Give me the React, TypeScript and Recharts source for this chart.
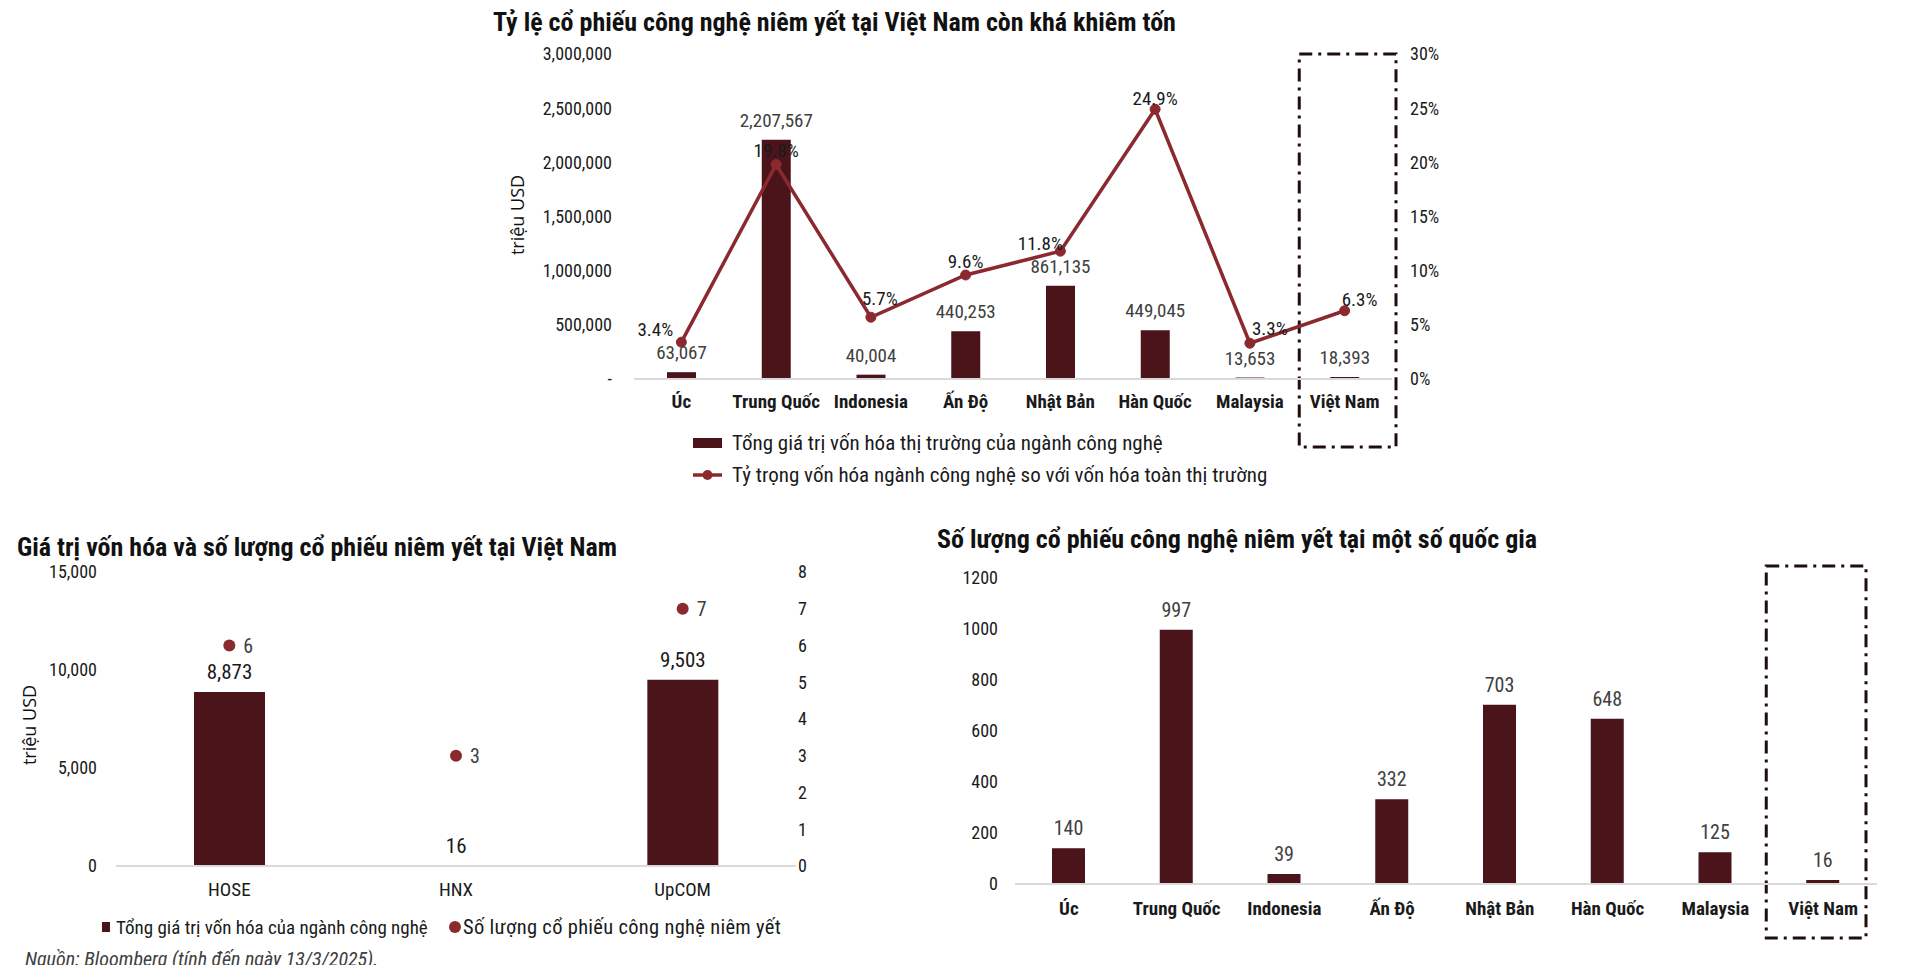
import React from "react";
import {
    ComposedChart,
    BarChart,
    Bar,
    Line,
    Scatter,
    XAxis,
    YAxis,
    LabelList,
    ReferenceArea,
} from "recharts";

const FONT = '"Liberation Sans Narrow", "Arial Narrow", "Roboto Condensed", "Liberation Sans", sans-serif';
const BAR = "#4a141a";
const LINE = "#8b2a2e";
const INK = "#1a1a1a";
const GRAY = "#404040";
const AXIS = "#d9d9d9";
const BOX = "#1f0e0e";

// --- chart 1: tech market cap vs share of total market cap
const countries = ["Úc", "Trung Quốc", "Indonesia", "Ấn Độ", "Nhật Bản", "Hàn Quốc", "Malaysia", "Việt Nam"];
const techCap = [63067, 2207567, 40004, 440253, 861135, 449045, 13653, 18393];
const techShare = [3.4, 19.8, 5.7, 9.6, 11.8, 24.9, 3.3, 6.3];
const capTicks = [0, 500000, 1000000, 1500000, 2000000, 2500000, 3000000];
const shareTicks = [0, 5, 10, 15, 20, 25, 30];
// nudges (px) for the % labels so they sit like in the source
const shareNudge = [[-26, -13], [0, -14], [9, -19], [0, -14], [-20, -8], [0, -11], [20, -15], [15, -11]];

// --- chart 2: Vietnam by exchange
const exchanges = ["HOSE", "HNX", "UpCOM"];
const vnCap = [8873, 16, 9503];
const vnCount = [6, 3, 7];
const vnCapTicks = [0, 5000, 10000, 15000];
const vnCountTicks = [0, 1, 2, 3, 4, 5, 6, 7, 8];

// --- chart 3: number of listed tech stocks
const listedCount = [140, 997, 39, 332, 703, 648, 125, 16];
const listedTicks = [0, 200, 400, 600, 800, 1000, 1200];

const topData = countries.map((c, i) => ({ country: c, cap: techCap[i], share: techShare[i] }));
const vnData = exchanges.map((e, i) => ({ exchange: e, cap: vnCap[i], count: vnCount[i] }));
const listedData = countries.map((c, i) => ({ country: c, count: listedCount[i] }));

const fmt = (v: number) => v.toLocaleString("en-US");

const ShareLabel = (props: any) => {
    const vb = props.viewBox || {};
    const x = vb.x ?? props.x;
    const y = vb.y ?? props.y;
    const [dx, dy] = shareNudge[props.index] ?? [0, -14];
    return (
        <text x={x + dx} y={y + dy} textAnchor="middle" dominantBaseline="central"
            fontSize={19} fill={INK} fontFamily={FONT}>
            {Number(props.value).toFixed(1)}%
        </text>
    );
};

const CountLabel = (props: any) => {
    const vb = props.viewBox || {};
    const cx = (vb.x ?? props.x) + (vb.width || 0) / 2;
    const cy = (vb.y ?? props.y) + (vb.height || 0) / 2;
    return (
        <text x={cx + 14} y={cy} dominantBaseline="central" fontSize={20} fill={GRAY} fontFamily={FONT}>
            {props.value}
        </text>
    );
};

// dash-dot frame round the Việt Nam column
const frame = (dx: number, dw: number, top: number, bottom: number) => (p: any) => (
    <rect x={p.x + dx} y={p.y - top} width={p.width + dw} height={p.height + top + bottom}
        fill="none" stroke={BOX} strokeWidth={3} strokeDasharray="13 6 3 6" />
);

const tick = (size: number, bold = false) => ({ fontSize: size, fill: INK, fontFamily: FONT, fontWeight: bold ? 700 : 400 });

const titleStyle: React.CSSProperties = {
    position: "absolute", fontWeight: 700, fontSize: 26, lineHeight: "30px", color: "#111", whiteSpace: "nowrap",
};

const unitStyle = (left: number, top: number): React.CSSProperties => ({
    position: "absolute", left, top, transform: "translate(-50%, -50%) rotate(-90deg)",
    fontFamily: '"Open Sans", sans-serif', fontSize: 18, color: "#111", whiteSpace: "nowrap",
});

export default function App() {
    return (
        <div style={{ position: "relative", width: 1904, height: 957, fontFamily: FONT, background: "#fff" }}>
            {/* top chart */}
            <div style={{ ...titleStyle, left: 485, top: -1 }}>
                Tỷ lệ cổ phiếu công nghệ niêm yết tại Việt Nam còn khá khiêm tốn
            </div>
            <div style={unitStyle(509, 207)}>triệu USD</div>
            <div style={{ position: "absolute", left: 472, top: 22 }}>
                <ComposedChart width={980} height={430} data={topData}
                    margin={{ top: 24, right: 8, bottom: 0, left: 0 }}>
                    <XAxis dataKey="country" height={81} tickLine={false} tickSize={0} tickMargin={16}
                        axisLine={{ stroke: AXIS, strokeWidth: 2 }} tick={tick(19, true)} interval={0} />
                    <YAxis yAxisId="cap" width={154} domain={[0, 3000000]} ticks={capTicks}
                        axisLine={false} tickLine={false} tickSize={0} tickMargin={22} tick={tick(18)}
                        tickFormatter={(v: number) => (v === 0 ? "-" : fmt(v))} />
                    <YAxis yAxisId="share" orientation="right" width={60} domain={[0, 30]} ticks={shareTicks}
                        axisLine={false} tickLine={false} tickSize={0} tickMargin={18} tick={tick(18)}
                        tickFormatter={(v: number) => `${v}%`} />
                    <ReferenceArea yAxisId="cap" x1="Việt Nam" x2="Việt Nam" ifOverflow="visible"
                        shape={frame(2, 2, 0, 68)} />
                    <Bar yAxisId="cap" dataKey="cap" fill={BAR} barSize={29} isAnimationActive={false}>
                        <LabelList dataKey="cap" position="top" offset={13} formatter={(v: any) => fmt(Number(v))}
                            style={{ fontSize: 19, fill: GRAY, fontFamily: FONT }} />
                    </Bar>
                    <Line yAxisId="share" dataKey="share" stroke={LINE} strokeWidth={3.5}
                        dot={{ r: 5, fill: LINE, stroke: LINE, strokeWidth: 1 }} isAnimationActive={false}>
                        <LabelList dataKey="share" content={ShareLabel} />
                    </Line>
                </ComposedChart>
            </div>
            <div style={{ position: "absolute", left: 685, top: 424, fontSize: 21, color: INK, whiteSpace: "nowrap" }}>
                <div style={{ display: "flex", alignItems: "center", height: 22 }}>
                    <span style={{ width: 29, height: 10, background: BAR, marginRight: 10 }} />
                    Tổng giá trị vốn hóa thị trường của ngành công nghệ
                </div>
                <div style={{ display: "flex", alignItems: "center", height: 22, marginTop: 10 }}>
                    <svg width={29} height={12} style={{ marginRight: 10 }}>
                        <line x1={0} y1={6} x2={29} y2={6} stroke={LINE} strokeWidth={3.5} />
                        <circle cx={14.5} cy={6} r={5} fill={LINE} />
                    </svg>
                    Tỷ trọng vốn hóa ngành công nghệ so với vốn hóa toàn thị trường
                </div>
            </div>

            {/* bottom left chart */}
            <div style={{ ...titleStyle, left: 9, top: 524 }}>
                Giá trị vốn hóa và số lượng cổ phiếu niêm yết tại Việt Nam
            </div>
            <div style={unitStyle(21, 717)}>triệu USD</div>
            <div style={{ position: "absolute", left: 0, top: 552 }}>
                <ComposedChart width={828} height={346} data={vnData}
                    margin={{ top: 12, right: 0, bottom: 0, left: 0 }}>
                    <XAxis dataKey="exchange" height={40} tickLine={false} tickSize={0} tickMargin={17}
                        axisLine={{ stroke: AXIS, strokeWidth: 2 }} tick={tick(19)} />
                    <YAxis yAxisId="cap" width={108} domain={[0, 15000]} ticks={vnCapTicks}
                        axisLine={false} tickLine={false} tickSize={0} tickMargin={19} tick={tick(18)}
                        tickFormatter={(v: number) => fmt(v)} />
                    <YAxis yAxisId="count" orientation="right" width={40} domain={[0, 8]} ticks={vnCountTicks}
                        axisLine={false} tickLine={false} tickSize={0} tickMargin={2} tick={tick(18)} />
                    <Bar yAxisId="cap" dataKey="cap" fill={BAR} barSize={71} isAnimationActive={false}>
                        <LabelList dataKey="cap" position="top" offset={13} formatter={(v: any) => fmt(Number(v))}
                            style={{ fontSize: 21, fill: INK, fontFamily: FONT }} />
                    </Bar>
                    <Scatter yAxisId="count" dataKey="count" fill={LINE} isAnimationActive={false}
                        shape={(p: any) => <circle cx={p.cx} cy={p.cy} r={6} fill={LINE} />}>
                        <LabelList dataKey="count" content={CountLabel} />
                    </Scatter>
                </ComposedChart>
            </div>
            <div style={{ position: "absolute", left: 94, top: 908, height: 22, display: "flex", alignItems: "center", fontSize: 19, color: INK, whiteSpace: "nowrap" }}>
                <span style={{ width: 8, height: 10, background: BAR, marginRight: 6 }} />
                Tổng giá trị vốn hóa của ngành công nghệ
            </div>
            <div style={{ position: "absolute", left: 441, top: 908, height: 22, display: "flex", alignItems: "center", fontSize: 20.5, letterSpacing: 0.3, color: INK, whiteSpace: "nowrap" }}>
                <span style={{ width: 12, height: 12, borderRadius: "50%", background: LINE, marginRight: 2 }} />
                Số lượng cổ phiếu công nghệ niêm yết
            </div>
            <div style={{ position: "absolute", left: 17, top: 941, lineHeight: "20px", fontSize: 20, fontStyle: "italic", color: GRAY, whiteSpace: "nowrap" }}>
                Nguồn: Bloomberg (tính đến ngày 13/3/2025).
            </div>

            {/* bottom right chart */}
            <div style={{ ...titleStyle, left: 929, top: 516 }}>
                Số lượng cổ phiếu công nghệ niêm yết tại một số quốc gia
            </div>
            <div style={{ position: "absolute", left: 922, top: 552 }}>
                <BarChart width={957} height={394} data={listedData}
                    margin={{ top: 18, right: 10, bottom: 0, left: 0 }}>
                    <XAxis dataKey="country" height={70} tickLine={false} tickSize={0} tickMargin={18}
                        axisLine={{ stroke: AXIS, strokeWidth: 2 }} tick={tick(19, true)} interval={0} />
                    <YAxis width={85} domain={[0, 1200]} ticks={listedTicks}
                        axisLine={false} tickLine={false} tickSize={0} tickMargin={17} tick={tick(18)} />
                    <ReferenceArea x1="Việt Nam" x2="Việt Nam" ifOverflow="visible" shape={frame(-3, -8, 12, 54)} />
                    <Bar dataKey="count" fill={BAR} barSize={33} isAnimationActive={false}>
                        <LabelList dataKey="count" position="top" offset={13}
                            style={{ fontSize: 20, fill: GRAY, fontFamily: FONT }} />
                    </Bar>
                </BarChart>
            </div>
        </div>
    );
}
